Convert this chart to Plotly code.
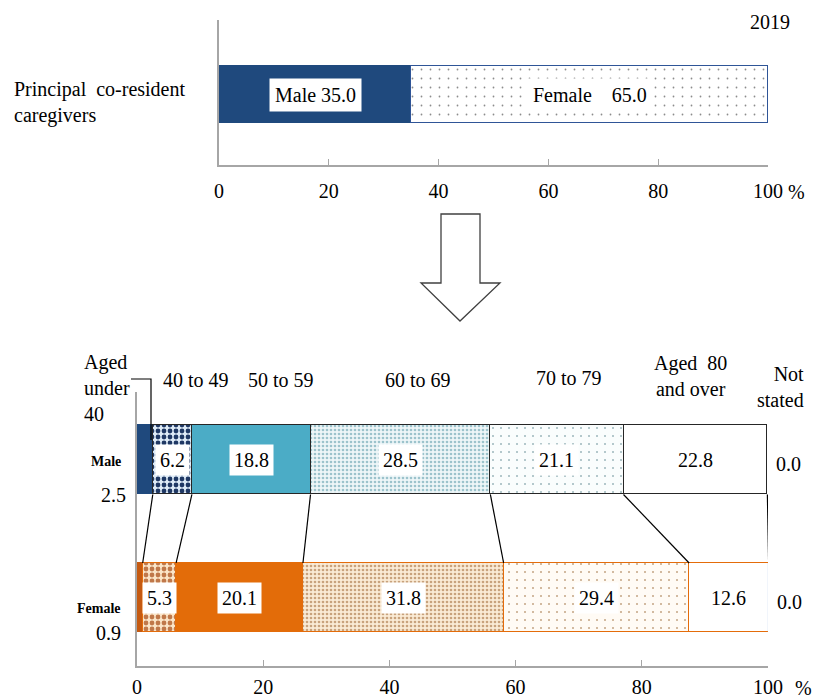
import plotly.graph_objects as go

# ---- data ----
top_year = "2019"
top_category = "Principal\u00a0\u00a0co-resident<br>caregivers"
top_groups = ["Male", "Female"]
top_values = [35.0, 65.0]

age_groups = ["Aged<br>under<br>40", "40 to 49", "50 to 59", "60 to 69",
              "70 to 79", "Aged\u00a0 80<br>and over", "Not<br>stated"]
male_values = [2.5, 6.2, 18.8, 28.5, 21.1, 22.8, 0.0]
female_values = [0.9, 5.3, 20.1, 31.8, 29.4, 12.6, 0.0]
tick_values = [0, 20, 40, 60, 80, 100]

W, H = 824, 698
FONT = "'Liberation Serif', 'Times New Roman', Times, serif"
FS = 20


def px(x):
    return x / W


def py(y):
    return 1 - y / H


def note(x, y, text, size=FS, xanchor="center", align="center", **kw):
    return dict(x=px(x), y=py(y), xref="paper", yref="paper", text=text,
                xanchor=xanchor, yanchor="middle", align=align,
                showarrow=False, font=dict(size=size), **kw)


fig = go.Figure()

# ---- top chart: sex split ----
navy = "#1F497D"
top_y, top_w = 0.486, 0.393
fig.add_trace(go.Bar(
    x=[top_values[0]], y=[top_y], width=top_w, orientation="h",
    marker=dict(color=navy, line=dict(color=navy, width=1)),
    xaxis="x", yaxis="y", showlegend=False, hoverinfo="skip"))
fig.add_trace(go.Bar(
    x=[top_values[1]], y=[top_y], width=top_w, orientation="h",
    marker=dict(color="white", line=dict(color="#2F5597", width=1.5),
                pattern=dict(shape=".", fgcolor="#8C8C8C", bgcolor="white",
                             size=9, solidity=0.03, fillmode="replace")),
    xaxis="x", yaxis="y", showlegend=False, hoverinfo="skip"))

annotations = []
cum = 0
for name, v in zip(top_groups, top_values):
    label = f"{name} {v:.1f}" if name == "Male" else f"{name}\u00a0\u00a0\u00a0\u00a0{v:.1f}"
    annotations.append(dict(x=cum + v / 2, y=top_y, xref="x", yref="y",
                            xanchor="center", yanchor="middle",
                            text=label, showarrow=False, bgcolor="white",
                            borderpad=5, font=dict(size=FS)))
    cum += v

# ---- bottom chart: age groups by sex ----
male_y, female_y, bw = 0.752, 0.25, 0.252

male_style = [
    dict(color=navy, line="#1F497D", pat=None),
    dict(color="#DEEBF7", line="#262626",
         pat=dict(shape=".", fgcolor="#1F3864", bgcolor="#DEEBF7", size=6, solidity=0.5)),
    dict(color="#4BACC6", line="#262626", pat=None),
    dict(color="#EAF4F6", line="#262626",
         pat=dict(shape=".", fgcolor="#9CC3CC", bgcolor="#EEF6F8", size=4, solidity=0.35)),
    dict(color="#FAFDFD", line="#262626",
         pat=dict(shape=".", fgcolor="#9DB6BC", bgcolor="#FAFDFD", size=8, solidity=0.05)),
    dict(color="white", line="#262626", pat=None),
    dict(color="white", line="#262626", pat=None),
]
female_style = [
    dict(color="#C55A11", line="#C55A11", pat=None),
    dict(color="#FBE5C8", line="#E46C0A",
         pat=dict(shape=".", fgcolor="#C0784A", bgcolor="#FBE5C8", size=6, solidity=0.5)),
    dict(color="#E36C09", line="#E46C0A", pat=None),
    dict(color="#FAEBD5", line="#E46C0A",
         pat=dict(shape=".", fgcolor="#C8A27C", bgcolor="#FAEBD5", size=4, solidity=0.35)),
    dict(color="#FFFBF5", line="#E46C0A",
         pat=dict(shape=".", fgcolor="#C4A584", bgcolor="#FFFBF5", size=8, solidity=0.05)),
    dict(color="white", line="#E46C0A", pat=None),
    dict(color="white", line="#8EA9DB", pat=None),
]


def add_row(values, styles, yv):
    for v, st in zip(values, styles):
        marker = dict(color=st["color"], line=dict(color=st["line"], width=1.5))
        if st["pat"]:
            marker["pattern"] = dict(fillmode="replace", **st["pat"])
        fig.add_trace(go.Bar(x=[v], y=[yv], width=bw, orientation="h",
                             marker=marker, xaxis="x2", yaxis="y2",
                             showlegend=False, hoverinfo="skip"))


add_row(male_values, male_style, male_y)
add_row(female_values, female_style, female_y)

# value labels inside the segments (under-40 and not stated sit outside)
for values, yv in ((male_values, male_y), (female_values, female_y)):
    cum = values[0]
    for v in values[1:-1]:
        annotations.append(dict(x=cum + v / 2, y=yv, xref="x2", yref="y2",
                                xanchor="center", yanchor="middle",
                                text=f"{v:.1f}", showarrow=False, bgcolor="white",
                                borderpad=4, font=dict(size=FS)))
        cum += v

# connector lines between segment boundaries
shapes = []
cm, cf = 0, 0
for vm, vf in zip(male_values[:-1], female_values[:-1]):
    cm += vm
    cf += vf
    shapes.append(dict(type="line", xref="x2", yref="y2",
                       x0=cm, y0=male_y - bw / 2, x1=cf, y1=female_y + bw / 2,
                       line=dict(color="black", width=1.2)))
# not stated edge on the female bar
shapes.append(dict(type="line", xref="x2", yref="y2",
                   x0=sum(female_values), x1=sum(female_values),
                   y0=female_y - bw / 2, y1=female_y + bw / 2,
                   line=dict(color="#8EA9DB", width=1.5)))

# bracket from "Aged under 40"
shapes.append(dict(type="path", xref="paper", yref="paper",
                   path=f"M {px(131)},{py(379)} L {px(151)},{py(379)} L {px(151)},{py(440)}",
                   line=dict(color="black", width=1.2)))

# down arrow between charts
arrow = [(441, 214), (480, 214), (480, 283), (500, 283), (460, 321), (421, 283), (441, 283)]
path = "M " + " L ".join(f"{px(a)},{py(b)}" for a, b in arrow) + " Z"
shapes.append(dict(type="path", xref="paper", yref="paper", path=path,
                   line=dict(color="#404040", width=1.3), fillcolor="white"))

# side labels
annotations += [
    note(12, 102, top_category, xanchor="left", align="left"),
    note(770, 22, top_year),
    note(796, 192, "%"),
    note(803, 688, "%"),
    note(106, 461, "<b>Male</b>", size=14),
    note(113, 495, f"{male_values[0]:.1f}"),
    note(99, 608, "<b>Female</b>", size=14),
    note(108, 633, f"{female_values[0]:.1f}"),
    note(788, 464, f"{male_values[-1]:.1f}"),
    note(789, 602, f"{female_values[-1]:.1f}"),
]

# age group headers
header_pos = [(82, 388, "left"), (196, 380, "center"), (281, 380, "center"),
              (418, 380, "center"), (569, 378, "center"), (690, 376, "center"),
              (806, 387, "right")]
for text, (hx, hy, anchor) in zip(age_groups, header_pos):
    annotations.append(note(hx, hy, text, xanchor=anchor, align=anchor))

axis_common = dict(range=[0, 100], tickvals=tick_values, ticks="inside", ticklen=6,
                   tickcolor="#A6A6A6", showline=True, linecolor="#A6A6A6",
                   linewidth=1.5, showgrid=False, zeroline=False, automargin=False,
                   tickfont=dict(size=FS, color="black"), fixedrange=True)
yaxis_common = dict(range=[0, 1], showline=True, linecolor="#A6A6A6", linewidth=1.5,
                    showgrid=False, zeroline=False, showticklabels=False, ticks="",
                    automargin=False, fixedrange=True)

fig.update_layout(
    width=W, height=H, autosize=False,
    margin=dict(l=0, r=0, t=0, b=0),
    paper_bgcolor="white", plot_bgcolor="white",
    font=dict(family=FONT, color="black"),
    barmode="stack", bargap=0,
    xaxis=dict(domain=[px(219), px(768)], anchor="y", ticklabelstandoff=7, **axis_common),
    yaxis=dict(domain=[py(165), py(20)], anchor="x", **yaxis_common),
    xaxis2=dict(domain=[px(137), px(768)], anchor="y2", ticklabelstandoff=2, **axis_common),
    yaxis2=dict(domain=[py(666), py(392)], anchor="x2", **yaxis_common),
    annotations=annotations,
    shapes=shapes,
)

fig.write_html("out.html")
